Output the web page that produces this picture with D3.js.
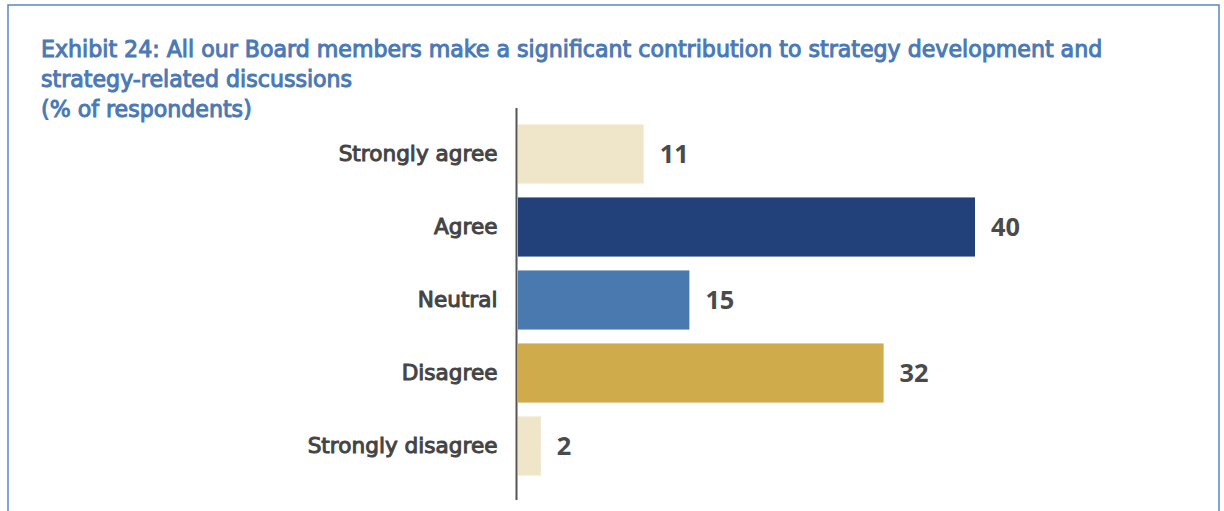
<!DOCTYPE html>
<html>
<head>
<meta charset="utf-8">
<script src="https://cdn.jsdelivr.net/npm/d3@7"></script>
<style>
  body { margin: 0; background: #fff; }
  svg { display: block; }
</style>
</head>
<body>
<div id="chart"></div>
<script>
const categories = ['Strongly agree', 'Agree', 'Neutral', 'Disagree', 'Strongly disagree'];
const values = [11, 40, 15, 32, 2];
const barColors = ['#efe5c8', '#22417a', '#4a79b0', '#cfab4c', '#efe5c8'];
const titleLines = [
  'Exhibit 24: All our Board members make a significant contribution to strategy development and',
  'strategy-related discussions',
  '(% of respondents)'
];

const width = 1224;
const height = 511;
const FONT = '\'DejaVu Sans\', sans-serif';

const svg = d3.select('#chart').append('svg')
  .attr('width', width)
  .attr('height', height);

// frame (open at the bottom)
svg.append('path')
  .attr('d', `M8,${height} V5 H1219 V${height}`)
  .attr('fill', 'none')
  .attr('stroke', '#5b86c2')
  .attr('stroke-width', 1.5);

// title - book weight with a stroke to get a medium weight
const titleText = svg.append('g').attr('class', 'title')
  .selectAll('text')
  .data(titleLines)
  .join('text')
  .attr('x', 41)
  .attr('y', (d, i) => 57 + i * 30)
  .attr('fill', '#4a79b5')
  .attr('stroke', '#4a79b5')
  .attr('stroke-width', 1)
  .attr('font-family', FONT)
  .attr('font-size', 19)
  .text(d => d);

// fit title font size to the reference width of the first line
const firstLen = titleText.node().getComputedTextLength();
titleText.attr('font-size', 19 * 1062 / firstLen);

const x = d3.scaleLinear()
  .domain([0, 40])
  .range([518, 975]);

const y = d3.scaleBand()
  .domain(categories)
  .range([117.5, 482.5])
  .paddingInner(0.19)
  .paddingOuter(0.095);

// bars
svg.append('g').attr('class', 'bars')
  .selectAll('rect')
  .data(categories)
  .join('rect')
  .attr('x', x(0))
  .attr('y', d => y(d))
  .attr('width', (d, i) => x(values[i]) - x(0))
  .attr('height', y.bandwidth())
  .attr('fill', (d, i) => barColors[i]);

// category axis
const yAxis = svg.append('g')
  .attr('transform', 'translate(516.5,0)')
  .call(d3.axisLeft(y).tickSize(0).tickPadding(19));

yAxis.select('.domain')
  .attr('d', 'M0,108V500')
  .attr('stroke', '#555')
  .attr('stroke-width', 2);

const catText = yAxis.selectAll('.tick text')
  .attr('fill', '#444')
  .attr('stroke', '#444')
  .attr('stroke-width', 1)
  .attr('font-family', FONT)
  .attr('font-size', 19)
  .attr('dy', '0.33em');

const longest = catText.filter(d => d === 'Strongly disagree').node().getComputedTextLength();
catText.attr('font-size', 19 * 190 / longest);

// value labels
const valText = svg.append('g').attr('class', 'values')
  .selectAll('text')
  .data(categories)
  .join('text')
  .attr('x', (d, i) => x(values[i]) + 16)
  .attr('y', d => y(d) + y.bandwidth() / 2)
  .attr('dy', '0.36em')
  .attr('fill', '#4a4a4a')
  .attr('font-family', '\'Open Sans\', sans-serif')
  .attr('font-weight', 700)
  .attr('font-size', 24)
  .text((d, i) => values[i]);

const fortyLen = valText.filter((d, i) => values[i] === 40).node().getComputedTextLength();
valText.attr('font-size', 24 * 29 / fortyLen);
</script>
</body>
</html>
